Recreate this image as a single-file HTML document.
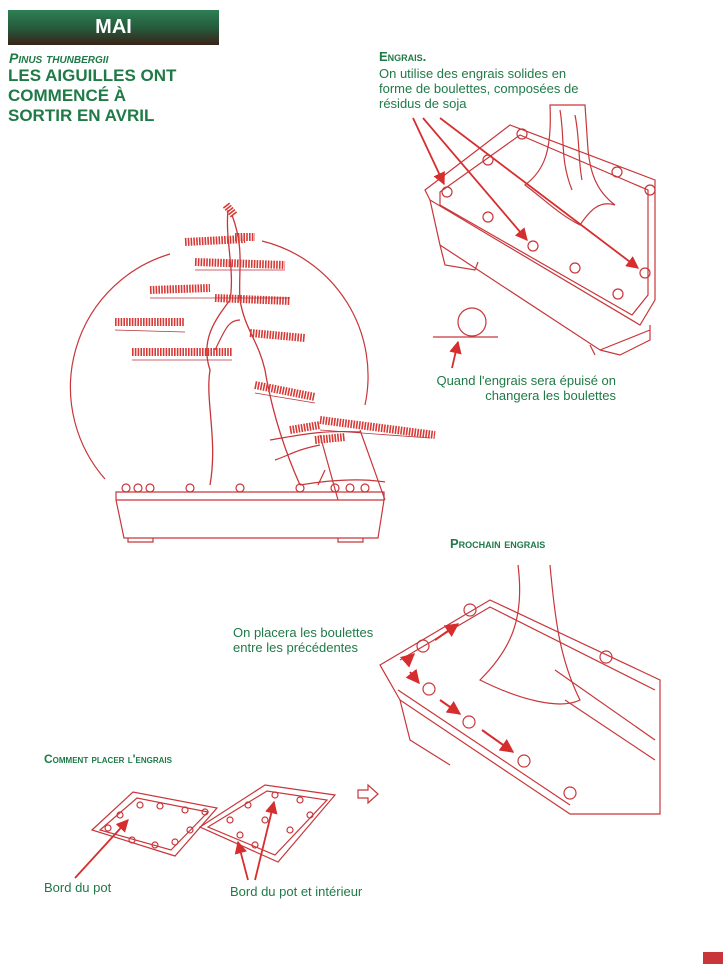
<!DOCTYPE html>
<html><head><meta charset="utf-8"><style>
body{margin:0;width:723px;height:964px;background:#fff;position:relative;overflow:hidden;font-family:"Liberation Sans",sans-serif}
.t{position:absolute;color:#1f7a47;font-weight:bold}
.s{position:absolute;color:#1f7a47;font-size:13px;line-height:15px}
</style></head><body>
<div style="position:absolute;left:8px;top:10px;width:211px;height:35px;background:linear-gradient(#2f7f55,#245c3c 50%,#3a2218);color:#fff;font-weight:bold;font-size:20px;text-align:center;line-height:35px">MAI</div>
<div class="t" style="left:9px;top:50px;font-size:14px;font-style:italic;font-variant:small-caps">Pinus thunbergii</div>
<div class="t" style="left:8px;top:66px;font-size:17px;line-height:20px">LES AIGUILLES ONT<br>COMMENCÉ À<br>SORTIR EN AVRIL</div>
<div class="t" style="left:379px;top:49px;font-size:13px;font-variant:small-caps">Engrais.</div>
<div class="s" style="left:379px;top:66px">On utilise des engrais solides en<br>forme de boulettes, composées de<br>résidus de soja</div>
<div class="s" style="left:430px;top:373px;text-align:right;width:186px">Quand l'engrais sera épuisé on<br>changera les boulettes</div>
<div class="t" style="left:450px;top:536px;font-size:13px;font-variant:small-caps">Prochain engrais</div>
<div class="s" style="left:233px;top:625px">On placera les boulettes<br>entre les précédentes</div>
<div class="t" style="left:44px;top:752px;font-size:12px;font-variant:small-caps">Comment placer l'engrais</div>
<div class="s" style="left:44px;top:880px">Bord du pot</div>
<div class="s" style="left:230px;top:884px">Bord du pot et intérieur</div>
<svg width="723" height="964" style="position:absolute;left:0;top:0" fill="none" stroke="#c8363a" stroke-width="1.2">
<defs><marker id="a" viewBox="0 0 10 10" refX="9" refY="5" markerWidth="7" markerHeight="7" orient="auto"><path d="M0,0 L10,5 L0,10 Z" fill="#d62e2e" stroke="none"/></marker></defs>
<path d="M105,479 A139,139 0 0 1 170,254 M262,241 A139,139 0 0 1 365,405"/>
<path d="M116,492 L384,492 L384,500 L378,538 L124,538 L116,500 Z"/>
<path d="M116,500 L384,500"/>
<path d="M128,538 v4 h25 v-4 M338,538 v4 h25 v-4"/>
<path d="M210,485 C218,440 205,400 210,370 C200,340 215,320 230,300 C235,270 225,240 228,210 M300,485 C280,440 270,400 265,370 C258,340 245,330 240,300 C238,270 245,250 232,215" stroke-width="1.3"/>
<path d="M215,350 C225,330 228,320 240,320 M270,440 C300,435 320,430 360,432 M275,460 C290,455 295,450 320,445"/>
<path d="M300,485 C330,480 360,478 385,482"/>
<path d="M320,435 L338,500 M360,430 L385,500 M325,470 L318,485"/>
<g stroke="#d63a36" stroke-width="8" stroke-dasharray="1.6 1.2">
<path d="M226,205 l8,10 M185,242 l60,-3 M235,237 l20,0 M195,262 l90,3 M150,290 l60,-2 M215,298 l75,3 M115,322 l70,0 M132,352 l100,0 M250,333 l55,5 M255,385 l60,12 M290,430 l30,-5 M320,420 l115,15 M315,440 l30,-3"/>
</g>
<g stroke="#b8333a" stroke-width="0.8">
<path d="M115,330 l70,2 M132,360 l100,0 M150,298 l140,0 M195,270 l90,0 M255,393 l60,10 M320,430 l110,8"/>
</g>
<g><circle cx="126" cy="488" r="4"/><circle cx="138" cy="488" r="4"/><circle cx="150" cy="488" r="4"/><circle cx="190" cy="488" r="4"/><circle cx="240" cy="488" r="4"/><circle cx="300" cy="488" r="4"/><circle cx="335" cy="488" r="4"/><circle cx="350" cy="488" r="4"/><circle cx="365" cy="488" r="4"/></g>
<path d="M425,190 L510,125 L655,180 L655,300 L640,325 L430,200 Z"/>
<path d="M440,192 L520,135 L648,190 L648,295 L632,315 L440,205 Z"/>
<path d="M430,200 L440,245 L600,350 L650,330 M650,325 L650,340 L620,355 L600,350"/>
<path d="M440,245 L445,265 L475,270 L478,262 M590,345 L595,355"/>
<path d="M550,105 C552,150 545,170 525,185 C545,200 560,215 580,225 C590,210 600,200 615,205 C595,190 590,170 588,150 L585,105 Z"/>
<path d="M560,110 C565,140 560,160 572,190 M575,115 C580,140 578,160 582,180"/>
<g><circle cx="447" cy="192" r="5"/><circle cx="488" cy="217" r="5"/><circle cx="533" cy="246" r="5"/><circle cx="575" cy="268" r="5"/><circle cx="645" cy="273" r="5"/><circle cx="618" cy="294" r="5"/><circle cx="488" cy="160" r="5"/><circle cx="522" cy="134" r="5"/><circle cx="617" cy="172" r="5"/><circle cx="650" cy="190" r="5"/></g>
<circle cx="472" cy="322" r="14"/><path d="M433,337 L498,337"/>
<g stroke="#d62e2e" stroke-width="1.8">
<path d="M413,118 L444,184" marker-end="url(#a)"/><path d="M423,118 L527,240" marker-end="url(#a)"/><path d="M440,118 L638,268" marker-end="url(#a)"/><path d="M452,368 L458,342" marker-end="url(#a)"/>
</g>
<path d="M380,665 L490,600 L660,680 L660,814 L570,814 L400,700 Z"/>
<path d="M400,660 L490,607 L655,690"/>
<path d="M398,690 L570,805"/>
<path d="M400,700 L410,740 L450,765"/>
<path d="M518,565 C525,620 510,650 480,680 C520,700 560,710 580,700 C560,660 555,620 550,565"/>
<path d="M555,670 L655,740 M565,700 L655,760"/>
<g><circle cx="470" cy="610" r="6"/><circle cx="423" cy="646" r="6"/><circle cx="429" cy="689" r="6"/><circle cx="469" cy="722" r="6"/><circle cx="524" cy="761" r="6"/><circle cx="570" cy="793" r="6"/><circle cx="606" cy="657" r="6"/></g>
<g stroke="#d62e2e" stroke-width="2"><path d="M435,640 L458,624" marker-end="url(#a)"/><path d="M405,662 L414,654" marker-end="url(#a)"/><path d="M410,672 L419,683" marker-end="url(#a)"/><path d="M440,700 L460,714" marker-end="url(#a)"/><path d="M482,730 L513,752" marker-end="url(#a)"/></g>
<path d="M358,790 h10 v-5 l10,9 l-10,9 v-5 h-10 Z"/>
<path d="M92,830 L133,792 L217,808 L175,856 Z"/><path d="M100,830 L137,798 L208,812 L171,850 Z"/>
<g><circle cx="140" cy="805" r="3"/><circle cx="160" cy="806" r="3"/><circle cx="185" cy="810" r="3"/><circle cx="205" cy="812" r="3"/><circle cx="120" cy="815" r="3"/><circle cx="108" cy="828" r="3"/><circle cx="190" cy="830" r="3"/><circle cx="175" cy="842" r="3"/><circle cx="155" cy="845" r="3"/><circle cx="132" cy="840" r="3"/></g>
<path d="M200,827 L265,785 L335,795 L278,862 Z"/><path d="M208,827 L267,791 L327,800 L275,855 Z"/>
<g><circle cx="230" cy="820" r="3"/><circle cx="248" cy="805" r="3"/><circle cx="275" cy="795" r="3"/><circle cx="300" cy="800" r="3"/><circle cx="240" cy="835" r="3"/><circle cx="255" cy="845" r="3"/><circle cx="290" cy="830" r="3"/><circle cx="310" cy="815" r="3"/><circle cx="265" cy="820" r="3"/></g>
<g stroke="#d62e2e" stroke-width="1.8"><path d="M75,878 L128,820" marker-end="url(#a)"/><path d="M248,880 L238,842" marker-end="url(#a)"/><path d="M255,880 L274,802" marker-end="url(#a)"/></g>
</svg>
<div style="position:absolute;left:703px;top:952px;width:20px;height:12px;background:#c8363a"></div>
</body></html>
